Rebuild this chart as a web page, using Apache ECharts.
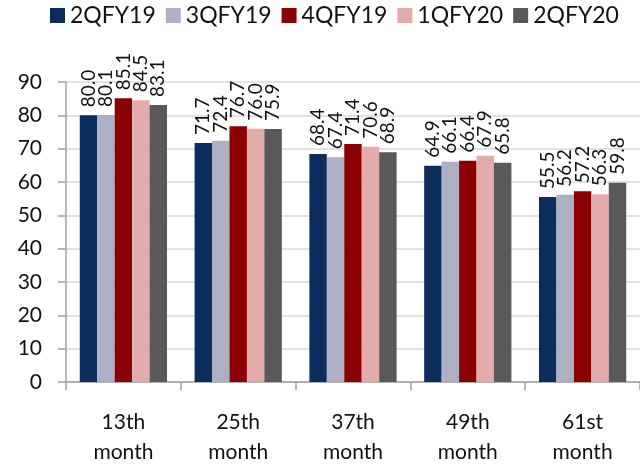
<!DOCTYPE html>
<html>
<head>
<meta charset="utf-8">
<script src="https://cdn.jsdelivr.net/npm/echarts@6/dist/echarts.min.js"></script>
<style>
  html, body { margin: 0; padding: 0; background: #fff; }
  #chart { width: 640px; height: 467px; }
</style>
</head>
<body>
<div id="chart"></div>
<script>
// Categories along the x axis
const categories = ['13th\nmonth', '25th\nmonth', '37th\nmonth', '49th\nmonth', '61st\nmonth'];

// One array per quarter
const q2FY19 = [80.0, 71.7, 68.4, 64.9, 55.5];
const q3FY19 = [80.1, 72.4, 67.4, 66.1, 56.2];
const q4FY19 = [85.1, 76.7, 71.4, 66.4, 57.2];
const q1FY20 = [84.5, 76.0, 70.6, 67.9, 56.3];
const q2FY20 = [83.1, 75.9, 68.9, 65.8, 59.8];

const seriesNames = ['2QFY19', '3QFY19', '4QFY19', '1QFY20', '2QFY20'];
const seriesData = [q2FY19, q3FY19, q4FY19, q1FY20, q2FY20];
const seriesColors = ['#0b2d5e', '#adb0c2', '#8b0000', '#e4abab', '#595959'];

const yTicks = { min: 0, max: 90, interval: 10 };

const font = 'Lato, "Open Sans", sans-serif';

const chart = echarts.init(document.getElementById('chart'), null, { renderer: 'canvas' });

chart.setOption({
  animation: false,
  textStyle: { fontFamily: font },
  legend: {
    top: 4,
    left: 50,
    right: 0,
    padding: 0,
    itemWidth: 15,
    itemHeight: 15,
    itemGap: 10,
    icon: 'rect',
    textStyle: { fontSize: 23, color: '#111', fontFamily: font },
    data: seriesNames
  },
  grid: { left: 66, right: -13, top: 82, bottom: 80, containLabel: false },
  xAxis: {
    type: 'category',
    data: categories,
    axisLine: { lineStyle: { color: '#a0a0a0', width: 1.5 } },
    axisTick: { show: true, length: 8, lineStyle: { color: '#a0a0a0', width: 1.5 } },
    axisLabel: { fontSize: 21, color: '#111', lineHeight: 30, margin: 25, fontFamily: font }
  },
  yAxis: {
    type: 'value',
    min: yTicks.min,
    max: yTicks.max,
    interval: yTicks.interval,
    axisLine: { show: true, lineStyle: { color: '#a0a0a0', width: 1.5 } },
    axisTick: { show: true, length: 8, lineStyle: { color: '#a0a0a0', width: 1.5 } },
    axisLabel: { fontSize: 21, color: '#111', margin: 24, fontFamily: font },
    splitLine: { lineStyle: { color: '#d9d9d9', width: 1.5 } }
  },
  series: seriesNames.map((name, i) => ({
    name: name,
    type: 'bar',
    data: seriesData[i],
    barGap: '0%',
    barCategoryGap: '24%',
    itemStyle: { color: seriesColors[i] },
    label: {
      show: true,
      position: 'top',
      rotate: 90,
      align: 'left',
      verticalAlign: 'middle',
      distance: 8,
      fontSize: 19,
      color: '#111',
      fontFamily: font,
      formatter: p => p.value.toFixed(1)
    }
  }))
});
</script>
</body>
</html>
